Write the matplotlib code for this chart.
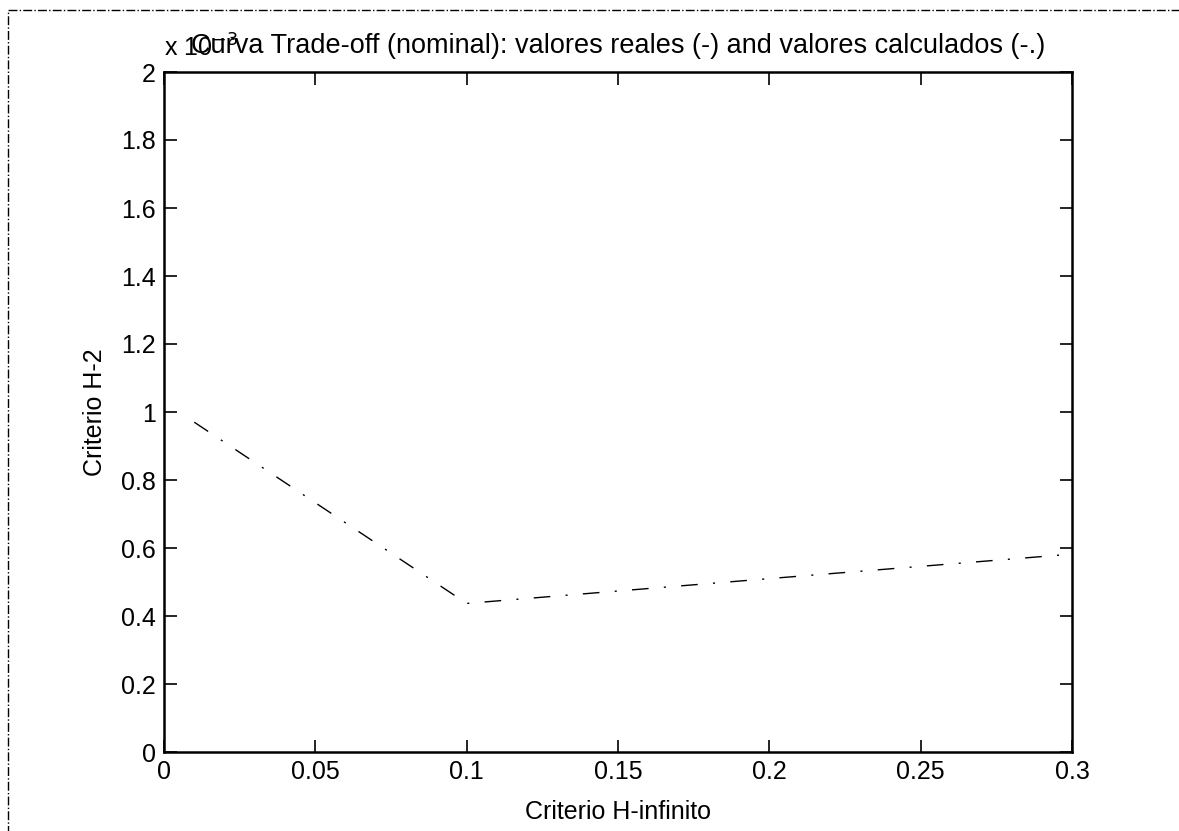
import numpy as np
import matplotlib.pyplot as plt
from matplotlib.patches import Rectangle
from matplotlib.ticker import FuncFormatter

# trade-off curve (valores calculados, dash-dot)
h_inf = [0.01, 0.10, 0.20, 0.30]
h_2 = [0.97e-3, 0.437e-3, 0.51e-3, 0.582e-3]

x_ticks = [0, 0.05, 0.1, 0.15, 0.2, 0.25, 0.3]
y_ticks = np.arange(0, 2.01e-3, 0.2e-3)

plt.rcParams['font.family'] = ['Liberation Sans', 'DejaVu Sans']

fig = plt.figure(figsize=(11.79, 8.31), dpi=100)
ax = fig.add_axes([164 / 1179, 1 - 752 / 831, 908 / 1179, 680 / 831])

line, = ax.plot(h_inf, h_2, color='black', linewidth=1.0)
line.set_dashes([12, 11, 1.5, 11])

ax.set_xlim(0, 0.3)
ax.set_ylim(0, 2e-3)
ax.set_xticks(x_ticks)
ax.set_yticks(y_ticks)
ax.xaxis.set_major_formatter(FuncFormatter(lambda v, p: f"{v:g}"))
ax.yaxis.set_major_formatter(FuncFormatter(lambda v, p: f"{round(v * 1e3, 1):g}"))
ax.tick_params(direction='in', length=9, width=1.2, top=True, right=True,
               labelsize=18, pad=6)
for s in ax.spines.values():
    s.set_linewidth(1.8)

ax.set_xlabel('Criterio H-infinito', fontsize=18, labelpad=11)
ax.set_ylabel('Criterio H-2', fontsize=18, labelpad=10)
ax.set_title('Curva Trade-off (nominal): valores reales (-) and valores calculados (-.)',
             fontsize=19.5, pad=14)

# MATLAB-style exponent label, overlapped by the title as in the original
ax.text(0.0, 1.022, r'x 10$^{-3}$', transform=ax.transAxes,
        fontsize=18, ha='left', va='baseline')

# dashed frame around the figure (scan border)
fig.patches.append(Rectangle((8 / 1179, -0.01), 1.0, 1 - 10 / 831 + 0.01,
                             transform=fig.transFigure, fill=False,
                             edgecolor='black', linestyle='-.', linewidth=1.0))

fig.savefig('out.png', dpi=100)
